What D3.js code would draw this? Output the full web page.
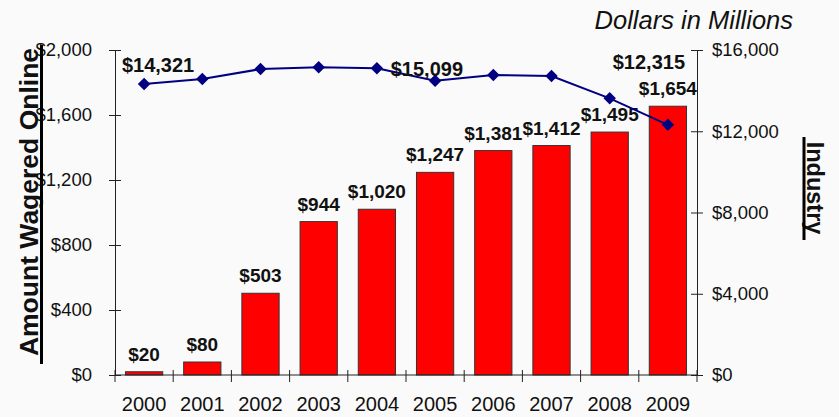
<!DOCTYPE html>
<html>
<head>
<meta charset="utf-8">
<script src="https://cdn.jsdelivr.net/npm/d3@7"></script>
<style>
  body { margin: 0; background: #fafafa; }
  svg { display: block; font-family: "Liberation Sans", Arial, sans-serif; }
</style>
</head>
<body>
<svg width="839" height="417"></svg>
<script>
var svg = d3.select('svg');

// chart data
const years = ['2000', '2001', '2002', '2003', '2004', '2005', '2006', '2007', '2008', '2009'];
const online = [20, 80, 503, 944, 1020, 1247, 1381, 1412, 1495, 1654]; // amount wagered online
const industry = [14321, 14570, 15060, 15150, 15099, 14490, 14770, 14720, 13620, 12315];
const leftTicks = [0, 400, 800, 1200, 1600, 2000];
const rightTicks = [0, 4000, 8000, 12000, 16000];
// which industry points get a label
const industryLabelled = ['2000', '2004', '2009'];

// plot area
let pLeft = 115, pRight = 697, pTop = 50, pBottom = 375;

svg.append('rect').attr('width', 839).attr('height', 417).attr('fill', '#fafafa');

let x = d3.scaleBand().domain(years).range([pLeft, pRight])
    .paddingInner(0.36).paddingOuter(0.18);
let yL = d3.scaleLinear().domain([0, 2000]).range([pBottom, pTop]);
let yR = d3.scaleLinear().domain([0, 16000]).range([pBottom, pTop]);

let fmt = d3.format(',');

// bars
svg.append('g').selectAll('rect').data(online).enter().append('rect')
    .attr('x', (d, i) => x(years[i]))
    .attr('y', d => yL(d))
    .attr('width', x.bandwidth())
    .attr('height', d => pBottom - yL(d))
    .attr('fill', '#ff0000')
    .attr('stroke', '#333')
    .attr('stroke-width', 1);

// axes
function crossTicks(axis) {
    // excel style ticks that cross the axis line
    return function(g) {
        g.call(axis);
        g.select('.domain').attr('stroke', '#222');
        g.selectAll('.tick line').attr('stroke', '#222');
        g.selectAll('.tick text').attr('fill', '#111');
    };
}

let gl = svg.append('g').attr('transform', 'translate(' + pLeft + ',0)')
    .call(crossTicks(d3.axisLeft(yL).tickValues(leftTicks).tickSize(6).tickSizeOuter(0)
        .tickPadding(17).tickFormat(d => '$' + fmt(d))));
gl.selectAll('.tick line').attr('x1', 6);
gl.selectAll('.tick text').attr('font-size', 18.5);

let gr = svg.append('g').attr('transform', 'translate(' + pRight + ',0)')
    .call(crossTicks(d3.axisRight(yR).tickValues(rightTicks).tickSize(6).tickSizeOuter(0)
        .tickPadding(9).tickFormat(d => '$' + fmt(d))));
gr.selectAll('.tick line').attr('x1', -6);
gr.selectAll('.tick text').attr('font-size', 18.5);

// bottom axis: ticks sit between categories
let gb = svg.append('g').attr('transform', 'translate(0,' + pBottom + ')');
gb.append('line').attr('x1', pLeft).attr('x2', pRight).attr('stroke', '#222');
let step = x.step();
let edges = years.map(d => x(d) - x.paddingInner() * step / 2);
edges.push(pRight);
gb.selectAll('.xt').data(edges).enter().append('line')
    .attr('class', 'xt')
    .attr('x1', d => d).attr('x2', d => d)
    .attr('y1', -5).attr('y2', 7)
    .attr('stroke', '#222');
gb.selectAll('.xl').data(years).enter().append('text')
    .attr('class', 'xl')
    .attr('x', d => x(d) + x.bandwidth() / 2)
    .attr('y', 36)
    .attr('text-anchor', 'middle')
    .attr('font-size', 20)
    .attr('fill', '#111')
    .text(d => d);

// bar value labels
svg.append('g').selectAll('text').data(online).enter().append('text')
    .attr('x', (d, i) => x(years[i]) + x.bandwidth() / 2)
    .attr('y', d => yL(d) - 11)
    .attr('text-anchor', 'middle')
    .attr('font-size', 19)
    .attr('font-weight', 'bold')
    .attr('fill', '#111')
    .text(d => '$' + fmt(d));

// industry line
let cx = d => x(d) + x.bandwidth() / 2;
let line = d3.line().x((d, i) => cx(years[i])).y(d => yR(d));
svg.append('path').datum(industry)
    .attr('d', line)
    .attr('fill', 'none')
    .attr('stroke', '#000080')
    .attr('stroke-width', 2);
svg.append('g').selectAll('path').data(industry).enter().append('path')
    .attr('d', d3.symbol().type(d3.symbolDiamond2).size(100))
    .attr('transform', (d, i) => 'translate(' + cx(years[i]) + ',' + yR(d) + ')')
    .attr('fill', '#000080');

let labelOffsets = { '2000': [14, -12], '2004': [50, 8], '2009': [-19, -56] };
svg.append('g').selectAll('text').data(industryLabelled).enter().append('text')
    .attr('x', d => cx(d) + labelOffsets[d][0])
    .attr('y', d => yR(industry[years.indexOf(d)]) + labelOffsets[d][1])
    .attr('text-anchor', 'middle')
    .attr('font-size', 20)
    .attr('font-weight', 'bold')
    .attr('fill', '#111')
    .text(d => '$' + fmt(industry[years.indexOf(d)]));

// titles
svg.append('text')
    .attr('x', 793).attr('y', 29)
    .attr('text-anchor', 'end')
    .attr('font-size', 25.5)
    .attr('font-style', 'italic')
    .attr('fill', '#111')
    .text('Dollars in Millions');

svg.append('text')
    .attr('transform', 'translate(38,202) rotate(-90)')
    .attr('text-anchor', 'middle')
    .attr('font-size', 26.5)
    .attr('font-weight', 'bold')
    .attr('fill', '#111')
    .text('Amount Wagered Online');
svg.append('line').attr('x1', 41.5).attr('x2', 41.5).attr('y1', 45).attr('y2', 364)
    .attr('stroke', '#000').attr('stroke-width', 3);

svg.append('text')
    .attr('transform', 'translate(807,188) rotate(90)')
    .attr('text-anchor', 'middle')
    .attr('font-size', 23.5)
    .attr('font-weight', 'bold')
    .attr('fill', '#111')
    .text('Industry');
svg.append('line').attr('x1', 804).attr('x2', 804).attr('y1', 137).attr('y2', 240)
    .attr('stroke', '#000').attr('stroke-width', 3);
</script>
</body>
</html>
